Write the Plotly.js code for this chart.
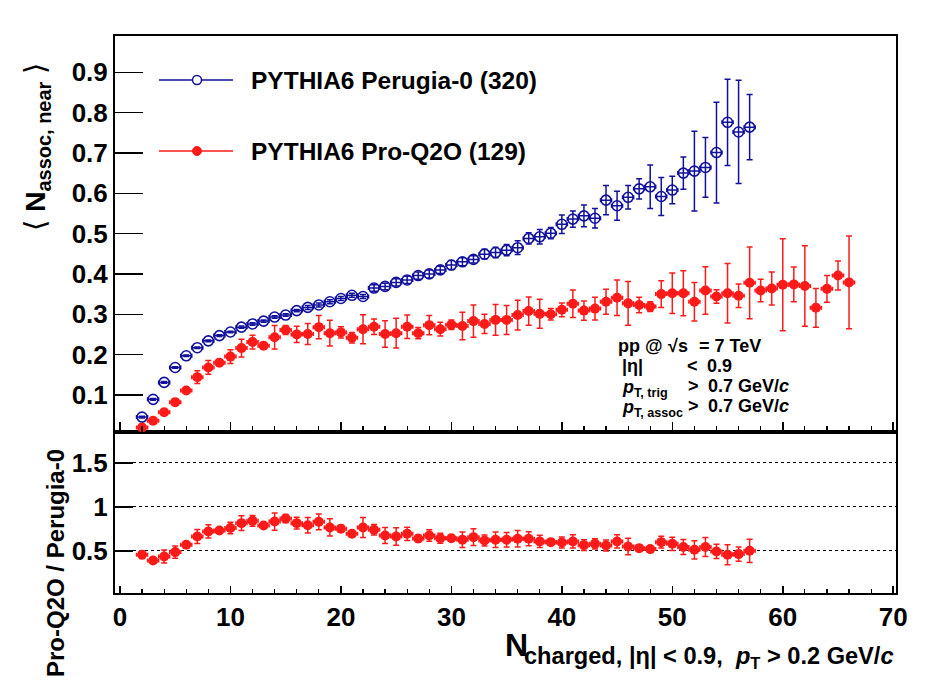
<!DOCTYPE html>
<html>
<head>
<meta charset="utf-8">
<script src="https://cdn.plot.ly/plotly-3.0.1.min.js"></script>
<style>html,body{margin:0;padding:0;background:#fff;}</style>
</head>
<body>
<div id="chart" style="width:950px;height:682px;"></div>
<script>
// ---- data ----
const nchBlue = [2,3,4,5,6,7,8,9,10,11,12,13,14,15,16,17,18,19,20,21,22,23,24,25,26,27,28,29,30,31,32,33,34,35,36,37,38,39,40,41,42,43,44,45,46,47,48,49,50,51,52,53,54,55,56,57];
const perugia0 = [0.045,0.089,0.131,0.168,0.197,0.217,0.234,0.247,0.256,0.268,0.276,0.283,0.293,0.298,0.309,0.317,0.323,0.331,0.339,0.347,0.344,0.365,0.369,0.379,0.385,0.396,0.400,0.410,0.422,0.430,0.436,0.449,0.453,0.459,0.465,0.488,0.492,0.501,0.523,0.536,0.544,0.538,0.583,0.569,0.590,0.611,0.616,0.592,0.608,0.650,0.655,0.664,0.701,0.776,0.752,0.764];
const perugia0Err = [0.002,0.002,0.002,0.002,0.002,0.002,0.002,0.002,0.002,0.003,0.003,0.003,0.003,0.003,0.003,0.005,0.005,0.005,0.005,0.005,0.005,0.008,0.008,0.009,0.009,0.009,0.010,0.009,0.011,0.010,0.009,0.012,0.013,0.014,0.017,0.014,0.018,0.014,0.023,0.020,0.027,0.024,0.036,0.036,0.029,0.025,0.054,0.047,0.034,0.040,0.099,0.074,0.125,0.107,0.128,0.081];

const nchRed = [2,3,4,5,6,7,8,9,10,11,12,13,14,15,16,17,18,19,20,21,22,23,24,25,26,27,28,29,30,31,32,33,34,35,36,37,38,39,40,41,42,43,44,45,46,47,48,49,50,51,52,53,54,55,56,57,58,59,60,61,62,63,64,65,66];
const proQ2O = [0.019,0.036,0.057,0.082,0.111,0.144,0.168,0.180,0.195,0.216,0.231,0.222,0.243,0.261,0.250,0.251,0.268,0.253,0.255,0.242,0.263,0.269,0.251,0.253,0.269,0.253,0.273,0.263,0.274,0.271,0.283,0.276,0.286,0.286,0.298,0.308,0.301,0.300,0.311,0.326,0.309,0.314,0.331,0.341,0.327,0.323,0.319,0.350,0.352,0.352,0.331,0.359,0.344,0.352,0.346,0.378,0.359,0.364,0.373,0.374,0.370,0.316,0.363,0.396,0.379];
const proQ2OErr = [0.005,0.005,0.006,0.008,0.007,0.016,0.017,0.006,0.017,0.022,0.017,0.006,0.029,0.011,0.020,0.026,0.029,0.032,0.014,0.013,0.036,0.019,0.033,0.037,0.029,0.014,0.024,0.017,0.012,0.034,0.040,0.024,0.038,0.036,0.037,0.035,0.036,0.014,0.017,0.034,0.024,0.028,0.031,0.044,0.054,0.019,0.012,0.033,0.050,0.056,0.048,0.059,0.017,0.074,0.029,0.089,0.028,0.041,0.114,0.043,0.100,0.048,0.033,0.036,0.115];

const nchRatio = [2,3,4,5,6,7,8,9,10,11,12,13,14,15,16,17,18,19,20,21,22,23,24,25,26,27,28,29,30,31,32,33,34,35,36,37,38,39,40,41,42,43,44,45,46,47,48,49,50,51,52,53,54,55,56,57];
const ratio = [0.455,0.39,0.435,0.485,0.568,0.662,0.72,0.73,0.758,0.814,0.84,0.787,0.832,0.866,0.814,0.79,0.829,0.765,0.75,0.693,0.765,0.738,0.674,0.662,0.693,0.64,0.674,0.643,0.643,0.625,0.655,0.617,0.625,0.625,0.636,0.636,0.606,0.598,0.594,0.606,0.564,0.579,0.56,0.606,0.549,0.53,0.519,0.598,0.579,0.542,0.511,0.542,0.492,0.455,0.462,0.5];
const ratioErr = [0.043,0.03,0.075,0.07,0.03,0.08,0.075,0.03,0.065,0.083,0.06,0.03,0.098,0.047,0.066,0.087,0.09,0.098,0.04,0.035,0.113,0.06,0.09,0.10,0.075,0.04,0.066,0.057,0.03,0.089,0.096,0.062,0.089,0.083,0.094,0.079,0.07,0.03,0.062,0.075,0.06,0.058,0.062,0.075,0.094,0.03,0.035,0.066,0.075,0.085,0.104,0.108,0.081,0.113,0.081,0.132];

const xTickVals = [0,10,20,30,40,50,60,70];
const topTickVals = [0.1,0.2,0.3,0.4,0.5,0.6,0.7,0.8,0.9];
const ratioTickVals = [0.5,1,1.5];
const ratioTickText = ['0.5','1','1.5'];
const legendNames = ['PYTHIA6 Perugia-0 (320)','PYTHIA6 Pro-Q2O (129)'];
const yTitleTop = '⟨ <b>N</b><sub><b>assoc, near</b></sub> ⟩';
const yTitleRatio = '<b>Pro-Q2O / Perugia-0</b>';

// ---- style ----
const BLUE = '#11119c';
const RED = '#ff1a1a';
const FONT = 'Liberation Sans, Arial, Helvetica, sans-serif';
const L = 115, R = 54, T = 36, B = 89, W = 950, H = 682;
const PW = W - L - R, PH = H - T - B;
const fx = px => (px - L) / PW;
const fy = py => (H - B - py) / PH;

const errX = c => ({type:'constant', value:0.5, color:c, thickness:1.5, width:2});
const errY = (arr, c) => ({type:'data', array:arr, color:c, thickness:1.5, width:3});

const traces = [
  {x:nchBlue, y:perugia0, xaxis:'x2', yaxis:'y', type:'scatter', mode:'markers', name:legendNames[0],
   marker:{symbol:'circle-open', size:10, color:BLUE, line:{color:BLUE, width:1.6}},
   error_y:errY(perugia0Err, BLUE), error_x:errX(BLUE)},
  {x:nchRed, y:proQ2O, xaxis:'x2', yaxis:'y', type:'scatter', mode:'markers', name:legendNames[1],
   marker:{symbol:'circle', size:10, color:RED},
   error_y:errY(proQ2OErr, RED), error_x:errX(RED)},
  {x:nchRatio, y:ratio, xaxis:'x', yaxis:'y2', type:'scatter', mode:'markers', name:'ratio',
   marker:{symbol:'circle', size:10, color:RED},
   error_y:errY(ratioErr, RED), error_x:errX(RED)}
];

const axBase = {showline:true, linecolor:'#000', linewidth:2, mirror:true, ticks:'inside',
  tickcolor:'#000', tickwidth:1.5, showgrid:false, zeroline:false};

const dom = (H - B - 432) / PH;

const layout = {
  width:W, height:H, margin:{l:L, r:R, t:T, b:B}, showlegend:false,
  paper_bgcolor:'#fff', plot_bgcolor:'#fff',
  font:{family:FONT, color:'#000'},
  xaxis:Object.assign({}, axBase, {anchor:'y2', range:[-0.45,70.25], tickvals:xTickVals, ticklen:7,
    minor:{dtick:2, ticklen:4, ticks:'inside', tickcolor:'#000', tickwidth:1.2, showgrid:false},
    tickfont:{family:FONT, size:26, weight:'bold'}, ticklabelstandoff:0}),
  xaxis2:Object.assign({}, axBase, {anchor:'y', matches:'x', range:[-0.45,70.25], tickvals:xTickVals, ticklen:10,
    minor:{dtick:2, ticklen:6, ticks:'inside', tickcolor:'#000', tickwidth:1.2, showgrid:false},
    showticklabels:false}),
  yaxis:Object.assign({}, axBase, {anchor:'x2', domain:[dom,1], range:[0.008,0.99], tickvals:topTickVals, ticklen:28,
    tickfont:{family:FONT, size:26, weight:'bold'}, ticklabelstandoff:0}),
  yaxis2:Object.assign({}, axBase, {anchor:'x', domain:[0,dom], range:[0.02,1.85], tickvals:ratioTickVals, ticktext:ratioTickText, ticklen:18,
    showgrid:true, gridcolor:'#000', gridwidth:1, griddash:'dot',
    tickfont:{family:FONT, size:26, weight:'bold'}, ticklabelstandoff:0}),
  shapes:[
    {type:'line', xref:'paper', yref:'paper', x0:fx(159), x1:fx(233), y0:fy(80), y1:fy(80), line:{color:BLUE, width:1.5}},
    {type:'circle', xref:'paper', yref:'paper', xsizemode:'pixel', ysizemode:'pixel', xanchor:fx(197), yanchor:fy(80),
      x0:-4.5, x1:4.5, y0:-4.5, y1:4.5, line:{color:BLUE, width:1.5}, fillcolor:'#fff'},
    {type:'line', xref:'paper', yref:'paper', x0:fx(159), x1:fx(233), y0:fy(151), y1:fy(151), line:{color:RED, width:1.5}},
    {type:'circle', xref:'paper', yref:'paper', xsizemode:'pixel', ysizemode:'pixel', xanchor:fx(197), yanchor:fy(151),
      x0:-4.5, x1:4.5, y0:-4.5, y1:4.5, line:{color:RED, width:1}, fillcolor:RED}
  ],
  annotations:[]
};

function ann(text, px, py, size, opts) {
  layout.annotations.push(Object.assign({text:text, xref:'paper', yref:'paper', x:fx(px), y:fy(py),
    showarrow:false, xanchor:'left', yanchor:'middle', font:{family:FONT, size:size, color:'#000'}}, opts||{}));
}
// legend text
ann('<b>'+legendNames[0]+'</b>', 249, 80, 24.5);
ann('<b>'+legendNames[1]+'</b>', 249, 151, 24.5);
// axis titles
ann(yTitleTop, 37, 147, 28.5, {xanchor:'center', textangle:-90});
ann(yTitleRatio, 55, 563, 24, {xanchor:'center', textangle:-90});
ann('<b>N</b>', 503, 645, 32);
ann('<b>charged, |η| &lt; 0.9,  <i>p</i><sub>T</sub> &gt; 0.2 GeV/<i>c</i></b>', 896, 658, 23.6, {xanchor:'right'});
// info text
ann('<b>pp @</b>', 616, 346, 18);
ann('<b>√s</b>', 666, 346, 18);
ann('<b>= 7 TeV</b>', 697, 346, 18);
ann('<b>|η|</b>', 620, 366, 18);
ann('<b>&lt;</b>', 685, 366, 18);
ann('<b>0.9</b>', 705, 366, 18);
ann('<b><i>p</i><sub>T, trig</sub></b>', 620, 388, 18);
ann('<b>&gt;</b>', 686, 386, 18);
ann('<b>0.7 GeV/<i>c</i></b>', 706, 386, 18);
ann('<b><i>p</i><sub>T, assoc</sub></b>', 620, 408, 18);
ann('<b>&gt;</b>', 686, 406, 18);
ann('<b>0.7 GeV/<i>c</i></b>', 706, 406, 18);

Plotly.newPlot('chart', traces, layout, {displayModeBar:false, staticPlot:true});
</script>
</body>
</html>
